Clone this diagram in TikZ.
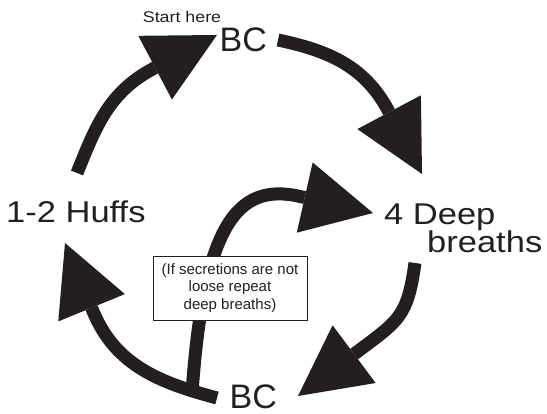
\documentclass[tikz,border=0pt]{standalone}
\usepackage{fontspec}
\setmainfont{Liberation Sans}
\newfontfamily\widesans[FakeStretch=1.15]{Liberation Sans}
\usetikzlibrary{arrows.meta}
\definecolor{ink}{RGB}{35,31,32}

\begin{document}
\begin{tikzpicture}[x=1pt,y=1pt,
    cyc/.style={draw=ink,line width=13pt,line join=round,-{Triangle[length=70pt,width=72pt,line width=0pt]}},
    big/.style={font=\fontsize{34}{34}\selectfont,inner sep=0pt,text=ink},
    wide/.style={font=\widesans\fontsize{30}{30}\selectfont,inner sep=0pt,text=ink},
    note/.style={draw=ink,fill=white,line width=0.8pt,minimum width=154pt,minimum height=64pt,
      align=center,inner sep=2pt,text=ink,font=\fontsize{15}{17.5}\selectfont}]
    \useasboundingbox (0,0) rectangle (547,414);
    \node[inner sep=0pt,anchor=base,text=ink,font=\widesans\fontsize{15.5}{16}\selectfont] (start) at (182,391.3) {Start here};
    \node[big,anchor=base west] (bctop) at (219.5,362) {BC};
    \node[wide,anchor=base west] (huffs) at (6,191) {1-2 Huffs};
    \node[wide,anchor=base west] (deep) at (384,189) {4 Deep};
    \node[wide,anchor=base west] (breaths) at (427,161) {breaths};
    \node[big,anchor=base west] (bcbot) at (229.5,5.5) {BC};
    \coordinate (a1s) at (77,241);    \coordinate (a1b) at (153.5,345.5); \coordinate (a1t) at (217,379);
    \coordinate (a2s) at (278,374);   \coordinate (a2b) at (388.5,303);   \coordinate (a2t) at (422,240);
    \coordinate (a3s) at (415,151);   \coordinate (a3b) at (355,60.5);    \coordinate (a3t) at (298,18);
    \coordinate (a4s) at (217,16);    \coordinate (a4b) at (92.5,104);    \coordinate (a4t) at (65,171);
    \coordinate (a5s) at (192,21);    \coordinate (a5b) at (300,217.5);   \coordinate (a5t) at (373,201);
    \draw[cyc] (a1s) to[out=68,in=208] (a1b) -- (a1t);
    \draw[cyc] (a2s) to[out=-12,in=118] (a2b) -- (a2t);
    \draw[cyc] (a3s) to[out=-98,in=37,looseness=1.3] (a3b) -- (a3t);
    \draw[cyc] (a4s) to[out=165,in=292] (a4b) -- (a4t);
    \draw[cyc] (a5s) to[out=86,in=167,out looseness=1.9,in looseness=0.75] (a5b) -- (a5t);
    \node[note] (box) at (230,126) {(If secretions are not\\loose repeat\\deep breaths)};
\end{tikzpicture}
\end{document}
